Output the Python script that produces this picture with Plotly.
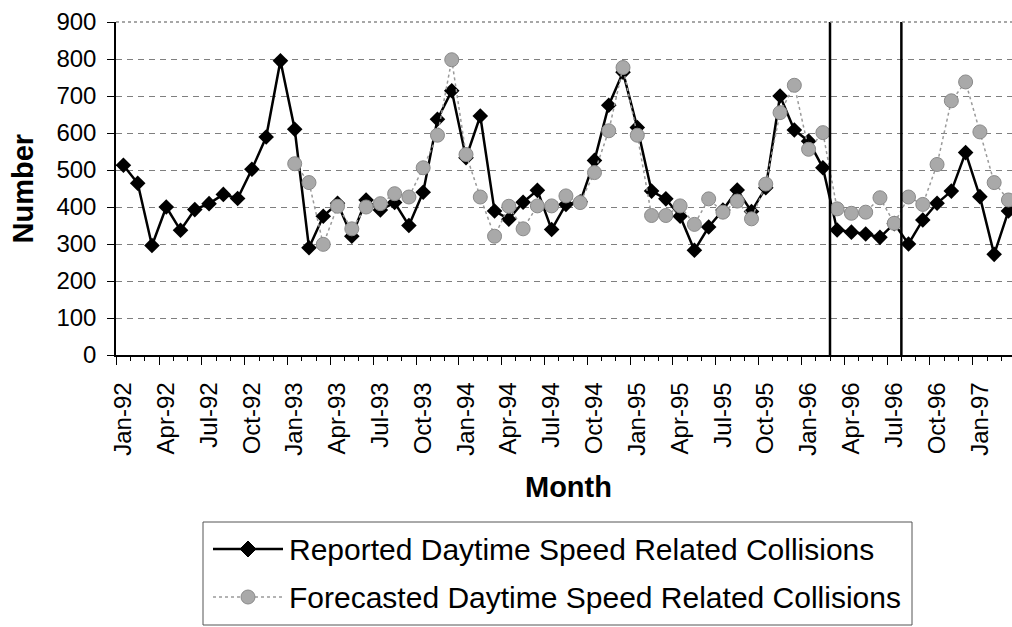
import plotly.graph_objects as go

months = [
    "Jan-92", "Feb-92", "Mar-92", "Apr-92", "May-92", "Jun-92", "Jul-92", "Aug-92", "Sep-92", "Oct-92", "Nov-92", "Dec-92",
    "Jan-93", "Feb-93", "Mar-93", "Apr-93", "May-93", "Jun-93", "Jul-93", "Aug-93", "Sep-93", "Oct-93", "Nov-93", "Dec-93",
    "Jan-94", "Feb-94", "Mar-94", "Apr-94", "May-94", "Jun-94", "Jul-94", "Aug-94", "Sep-94", "Oct-94", "Nov-94", "Dec-94",
    "Jan-95", "Feb-95", "Mar-95", "Apr-95", "May-95", "Jun-95", "Jul-95", "Aug-95", "Sep-95", "Oct-95", "Nov-95", "Dec-95",
    "Jan-96", "Feb-96", "Mar-96", "Apr-96", "May-96", "Jun-96", "Jul-96", "Aug-96", "Sep-96", "Oct-96", "Nov-96", "Dec-96",
    "Jan-97", "Feb-97", "Mar-97",
]

reported = [
    513, 464, 296, 400, 337, 393, 409, 434, 423, 502, 589, 795,
    610, 290, 375, 410, 321, 419, 392, 412, 350, 440, 637, 714,
    533, 646, 389, 367, 413, 445, 339, 407, 414, 526, 675, 764,
    615, 443, 422, 375, 283, 346, 392, 446, 388, 452, 700, 608,
    578, 506, 338, 332, 327, 318, 355, 300, 365, 410, 443, 547,
    428, 272, 389,
]

forecast_months = months[12:]
forecast = [
    517, 466, 299, 402, 341, 400, 409, 436, 427, 506, 594, 798,
    542, 427, 321, 402, 341, 403, 403, 430, 412, 493, 606, 777,
    594, 377, 377, 403, 353, 422, 386, 416, 368, 462, 655, 729,
    556, 601, 395, 383, 386, 425, 356, 427, 407, 515, 687, 738,
    603, 466, 419,
]

tick_labels = months[::3]
period_bounds = ["Feb-96", "Jul-96"]  # vertical markers placed after these months

series_names = [
    "Reported Daytime Speed Related Collisions",
    "Forecasted Daytime Speed Related Collisions",
]

FONT = "Arial, Liberation Sans, sans-serif"
FIG_W, FIG_H = 1012, 627
L, R, T, B = 116, 0, 22, 272
PW, PH = FIG_W - L - R, FIG_H - T - B


def px_x(p):
    return (p - L) / PW


def px_y(p):
    return (FIG_H - B - p) / PH


x_rep = [months.index(m) for m in months]
x_fc = [months.index(m) for m in forecast_months]

fig = go.Figure()
fig.add_trace(go.Scatter(
    x=x_rep, y=reported, mode="lines+markers", name=series_names[0],
    line=dict(color="black", width=2.5),
    marker=dict(symbol="diamond", size=12, color="black"),
    showlegend=False, cliponaxis=True,
))
fig.add_trace(go.Scatter(
    x=x_fc, y=forecast, mode="lines+markers", name=series_names[1],
    line=dict(color="#9a9a9a", width=1.5, dash="dot"),
    marker=dict(symbol="circle", size=14, color="#a9a9a9", line=dict(color="#8a8a8a", width=1)),
    showlegend=False, cliponaxis=True,
))

shapes = []
# vertical period markers
for m in period_bounds:
    xv = months.index(m) + 0.5
    shapes.append(dict(type="line", xref="x", yref="paper", x0=xv, x1=xv, y0=0, y1=1,
                       line=dict(color="black", width=2.5)))
# top border of plot area
shapes.append(dict(type="line", xref="paper", yref="paper", x0=0, x1=1, y0=1, y1=1,
                   line=dict(color="#8a8a8a", width=1.5, dash="dot")))

# legend box (drawn manually)
bx0, bx1, by0, by1 = 203, 912, 522, 625
shapes.append(dict(type="rect", xref="paper", yref="paper",
                   x0=px_x(bx0), x1=px_x(bx1), y0=px_y(by1), y1=px_y(by0),
                   line=dict(color="#555555", width=1), fillcolor="rgba(0,0,0,0)"))
rows = [549, 597]
lx0, lx1, lmx = 213, 283, 248
# reported sample
shapes.append(dict(type="line", xref="paper", yref="paper",
                   x0=px_x(lx0), x1=px_x(lx1), y0=px_y(rows[0]), y1=px_y(rows[0]),
                   line=dict(color="black", width=2.5)))
d = 8
path = "M {} {} L {} {} L {} {} L {} {} Z".format(
    px_x(lmx), px_y(rows[0] - d), px_x(lmx + d), px_y(rows[0]),
    px_x(lmx), px_y(rows[0] + d), px_x(lmx - d), px_y(rows[0]))
shapes.append(dict(type="path", xref="paper", yref="paper", path=path,
                   fillcolor="black", line=dict(color="black", width=1)))
# forecast sample
shapes.append(dict(type="line", xref="paper", yref="paper",
                   x0=px_x(lx0), x1=px_x(lx1), y0=px_y(rows[1]), y1=px_y(rows[1]),
                   line=dict(color="#9a9a9a", width=1.5, dash="dot")))
c = 7
shapes.append(dict(type="circle", xref="paper", yref="paper",
                   x0=px_x(lmx - c), x1=px_x(lmx + c), y0=px_y(rows[1] + c), y1=px_y(rows[1] - c),
                   fillcolor="#a9a9a9", line=dict(color="#8a8a8a", width=1)))

annotations = [
    dict(text="<b>Number</b>", xref="paper", yref="paper", x=px_x(22), y=0.5,
         xanchor="center", yanchor="middle", textangle=-90, showarrow=False,
         font=dict(family=FONT, size=29, color="black")),
    dict(text="<b>Month</b>", xref="paper", yref="paper", x=px_x(568), y=px_y(487),
         xanchor="center", yanchor="middle", showarrow=False,
         font=dict(family=FONT, size=29, color="black")),
]
for name, ry in zip(series_names, rows):
    annotations.append(dict(text=name, xref="paper", yref="paper", x=px_x(287), y=px_y(ry),
                            xanchor="left", yanchor="middle", showarrow=False,
                            font=dict(family=FONT, size=30, color="black")))

fig.update_layout(
    width=FIG_W, height=FIG_H,
    margin=dict(l=L, r=R, t=T, b=B, pad=0),
    paper_bgcolor="white", plot_bgcolor="white",
    font=dict(family=FONT, color="black"),
    shapes=shapes, annotations=annotations,
    showlegend=False,
)
fig.update_xaxes(
    range=[-0.52, 62.25],
    tickmode="array",
    tickvals=[months.index(t) - 0.5 for t in tick_labels],
    ticktext=tick_labels,
    tickangle=-90,
    ticks="outside", ticklen=8, tickwidth=1, tickcolor="black",
    ticklabelshift=7, ticklabelstandoff=8,
    minor=dict(ticks="outside", ticklen=4, tickcolor="black", dtick=1, tick0=-0.5, showgrid=False),
    showline=True, linecolor="black", linewidth=1.5,
    showgrid=False, zeroline=False,
    tickfont=dict(family=FONT, size=24, color="black"),
)
fig.update_yaxes(
    range=[0, 900], dtick=100, tick0=0,
    ticks="outside", ticklen=7, tickwidth=1, tickcolor="black",
    ticklabelstandoff=6,
    showline=True, linecolor="black", linewidth=1.5,
    showgrid=True, gridcolor="#7f7f7f", gridwidth=1, griddash="6px,5px",
    zeroline=False,
    tickfont=dict(family=FONT, size=24, color="black"),
)

fig.write_html("out.html")
